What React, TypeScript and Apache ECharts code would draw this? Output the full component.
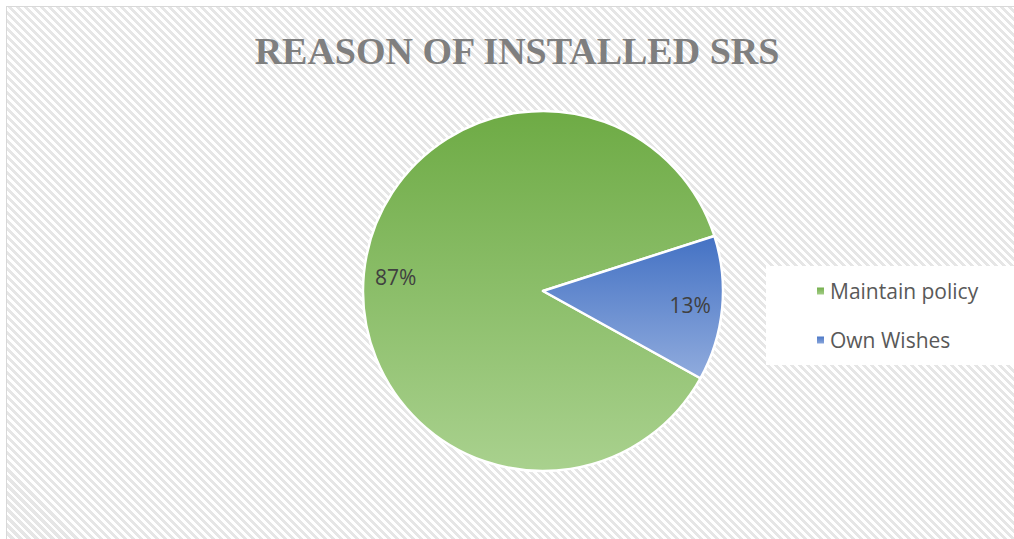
import React, { useEffect, useRef } from "react";
import * as echarts from "echarts";

const titleText = "REASON OF INSTALLED SRS";
const categories = ["Maintain policy", "Own Wishes"];
const values = [87, 13];
const labels = ["87%", "13%"];

const gradients = [
  ["#6eab45", "#a9d18e"],
  ["#4472c4", "#90abdd"],
];

export default function App() {
  const ref = useRef<HTMLDivElement>(null);
  useEffect(() => {
    if (!ref.current) return;
    const chart = echarts.init(ref.current, undefined, { renderer: "svg" });
    const center = [536, 284];
    const mainData = categories.map((name, i) => ({
      name,
      value: values[i],
      itemStyle: {
        color: new echarts.graphic.LinearGradient(0, 0, 0, 1, [
          { offset: 0, color: gradients[i][0] },
          { offset: 1, color: gradients[i][1] },
        ]),
      },
    }));
    const ghostData = categories.map((name, i) => ({
      name,
      value: values[i],
      label: { formatter: labels[i] },
    }));
    chart.setOption({
      animation: false,
      backgroundColor: "transparent",
      graphic: [
        {
          type: "text",
          x: 510,
          y: 44,
          style: {
            text: titleText,
            fill: "#7f7f7f",
            font: 'bold 38px "Liberation Serif"',
            textAlign: "center",
            textVerticalAlign: "middle",
          },
        },
      ],
      legend: {
        orient: "vertical",
        left: 759,
        top: 259,
        data: categories,
        icon: "rect",
        itemWidth: 9,
        itemHeight: 9,
        itemGap: 25,
        backgroundColor: "#ffffff",
        padding: [13, 60, 13, 49],
        textStyle: {
          fontFamily: "Open Sans",
          fontSize: 21,
          color: "#595959",
          lineHeight: 24,
          padding: [0, 0, 0, 0],
        },
      },
      series: [
        {
          type: "pie",
          center,
          radius: [0, 180],
          startAngle: 331,
          clockwise: true,
          data: mainData,
          label: { show: false },
          labelLine: { show: false },
          itemStyle: { borderColor: "#ffffff", borderWidth: 2.5 },
          emphasis: { disabled: true },
          silent: true,
        },
        {
          type: "pie",
          center,
          radius: [128, 162],
          startAngle: 331,
          clockwise: true,
          data: ghostData,
          itemStyle: { color: "rgba(0,0,0,0)" },
          label: {
            show: true,
            position: "inside",
            color: "#404040",
            fontFamily: "Open Sans",
            fontSize: 21,
          },
          labelLine: { show: false },
          emphasis: { disabled: true },
          silent: true,
        },
      ],
    });
    return () => chart.dispose();
  }, []);
  return (
    <div
      style={{
        position: "absolute",
        left: 6,
        top: 6,
        width: 1008,
        height: 533,
        boxSizing: "border-box",
        borderLeft: "1px solid #d9d9d9",
        borderTop: "1px solid #d9d9d9",
        background:
          "repeating-linear-gradient(45deg, #ffffff 0px, #ffffff 2.8px, #e6e6e6 2.8px, #e6e6e6 5.66px)",
        overflow: "hidden",
      }}
    >
      <div ref={ref} style={{ width: 1007, height: 532 }} />
    </div>
  );
}
